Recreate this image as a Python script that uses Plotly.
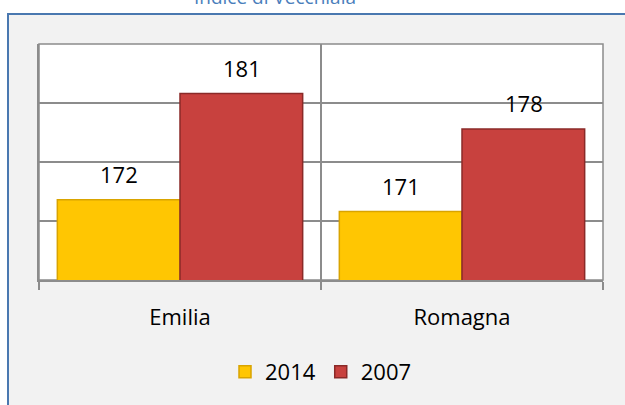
import plotly.graph_objects as go

categories = ["Emilia", "Romagna"]
series_names = ["2014", "2007"]
values_2014 = [172, 171]
values_2007 = [181, 178]

colors = {"2014": "#FFC602", "2007": "#C8413E"}
edge = {"2014": "#D9A400", "2007": "#8A2A28"}
grid = "#8C8C8C"
font_family = "Open Sans, Liberation Sans, DejaVu Sans, sans-serif"

fig = go.Figure()
for name, vals in zip(series_names, [values_2014, values_2007]):
    fig.add_trace(go.Bar(
        x=categories, y=vals, name=name,
        marker=dict(color=colors[name], line=dict(color=edge[name], width=1.5)),
        hoverinfo="x+y+name",
    ))

# data labels above the bars
bar_px = 123
for i, (name, vals) in enumerate(zip(series_names, [values_2014, values_2007])):
    shift = -bar_px / 2 if i == 0 else bar_px / 2
    for c, v in zip(categories, vals):
        fig.add_annotation(x=c, y=v, text=str(v), showarrow=False,
                           xshift=shift, yshift=9, yanchor="bottom",
                           font=dict(size=22, color="#000000", family=font_family))

# outer panel (grey with blue border) and white plot area
fig.add_shape(type="rect", xref="paper", yref="paper",
              x0=(8 - 39) / 564, x1=(660 - 39) / 564,
              y0=(280 - 440) / 236, y1=(280 - 14) / 236,
              fillcolor="#F2F2F2", line=dict(color="#4A78B0", width=2), layer="below")
fig.add_shape(type="rect", xref="paper", yref="paper", x0=0, x1=1, y0=0, y1=1,
              fillcolor="#FFFFFF", line=dict(color=grid, width=1.5), layer="below")

fig.update_layout(
    width=625, height=405,
    margin=dict(l=39, r=22, t=44, b=125),
    paper_bgcolor="#FFFFFF", plot_bgcolor="#FFFFFF",
    barmode="group", bargap=0.13, bargroupgap=0,
    title=dict(text="Indice di Vecchiaia", x=275 / 625, xanchor="center",
               y=1 - 4 / 405, yanchor="bottom", yref="container",
               font=dict(size=19, color="#4A7EBB", family=font_family)),
    font=dict(family=font_family, color="#000000"),
    legend=dict(orientation="h", x=0.5, xanchor="center", y=(280 - 372) / 236, yanchor="middle",
                font=dict(size=22), bgcolor="rgba(0,0,0,0)", itemwidth=30),
    showlegend=True,
)
fig.update_xaxes(showline=True, linecolor=grid, linewidth=1.5,
                 ticks="outside", tickson="boundaries", ticklen=8, tickcolor=grid, tickwidth=1.5,
                 showgrid=True, gridcolor=grid, gridwidth=1.5,
                 tickfont=dict(size=22), ticklabelstandoff=17)
fig.update_yaxes(range=[165.2, 185.2], tick0=165.2, dtick=5, showticklabels=False,
                 showline=True, linecolor=grid, linewidth=1.5,
                 showgrid=True, gridcolor=grid, gridwidth=1.5, zeroline=False, ticks="")

fig.write_html("out.html", config={"displayModeBar": False},
               post_script="document.body.style.margin='0';")
